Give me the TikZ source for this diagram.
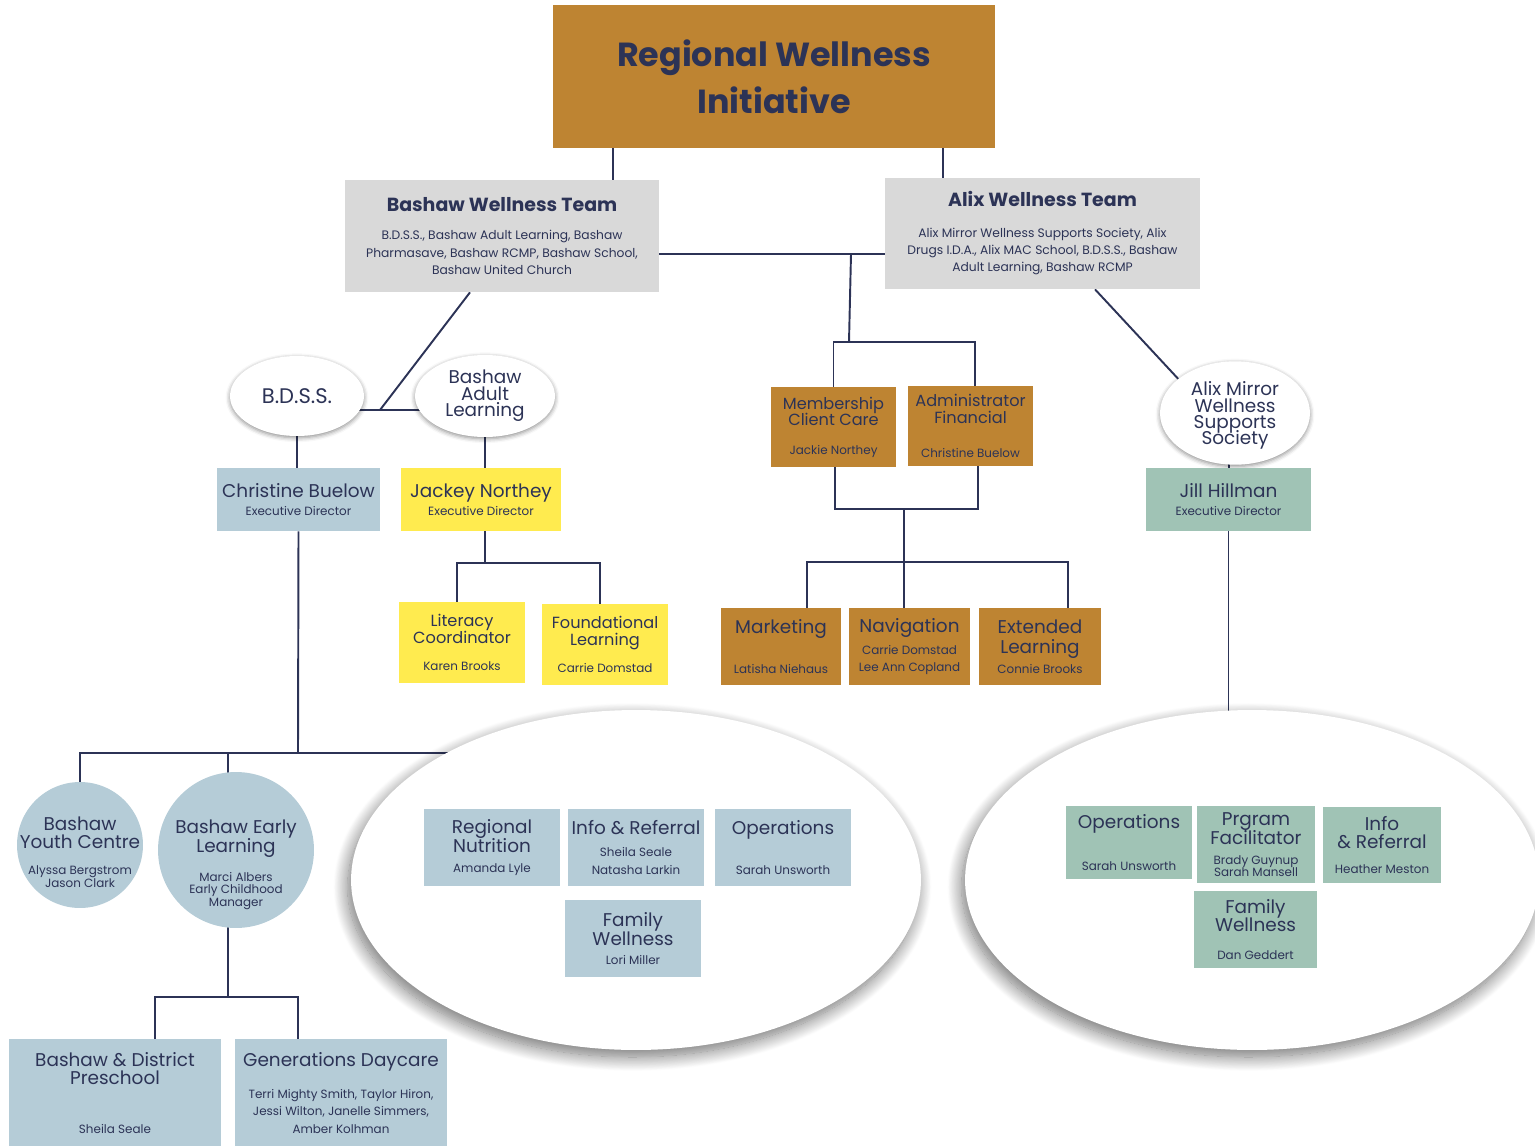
\documentclass[tikz,border=0pt]{standalone}
\usepackage{fontspec}
\setmainfont{Poppins}
\usepackage{tikz}
\usetikzlibrary{shapes.geometric,shadows.blur,backgrounds}

\definecolor{ochre}{HTML}{BE8432}
\definecolor{navy}{HTML}{2C3356}
\definecolor{teamgrey}{HTML}{D9D9D9}
\definecolor{bashblue}{HTML}{B5CCD7}
\definecolor{lityellow}{HTML}{FFEB4F}
\definecolor{alixgreen}{HTML}{A0C3B5}

\newcommand\fttl{\fontsize{19}{27}\selectfont\bfseries}
\newcommand\fteam{\fontsize{10.8}{13}\selectfont\bfseries}
\newcommand\fbody{\fontsize{7}{9.9}\selectfont}
\newcommand\fbase{\fontsize{6.8}{16}\selectfont}
\newcommand\fbig{\fontsize{12}{12}\selectfont}
\newcommand\fhead{\fontsize{10.5}{10.5}\selectfont}
\newcommand\fsub{\fontsize{9.2}{9.6}\selectfont}
\newcommand\fell{\fontsize{10.5}{16}\selectfont}

\tikzset{
  box/.style={rectangle, inner sep=0pt, align=center, text=navy, font=\fbase},
  ovalnode/.style={ellipse, fill=white, inner sep=0pt, align=center, text=navy, font=\fell,
    blur shadow={shadow xshift=0pt, shadow yshift=-1pt, shadow blur radius=2.5pt, shadow opacity=45}},
  bigoval/.style={ellipse, fill=white, inner sep=0pt,
    blur shadow={shadow xshift=-2pt, shadow yshift=-4pt, shadow blur radius=8pt,
      shadow blur steps=20, shadow opacity=55}},
  link/.style={draw=navy, line width=1.1pt}
}

\begin{document}
\begin{tikzpicture}[x=0.02cm, y=-0.02cm]
\useasboundingbox (0,0) rectangle (1535,1146);
\clip (0,0) rectangle (1535,1146);

% top
\node[box, fill=ochre, minimum width=8.84cm, minimum height=2.86cm, font=\fttl] (rwi) at (774,76.5)
  {Regional Wellness\\Initiative};
\node[box, fill=teamgrey, minimum width=6.28cm, minimum height=2.24cm, font=\fbody] (bwt) at (502,236)
  {\fteam Bashaw Wellness Team\\[6.5pt]B.D.S.S., Bashaw Adult Learning, Bashaw\\Pharmasave, Bashaw RCMP, Bashaw School,\\Bashaw United Church};
\node[box, fill=teamgrey, minimum width=6.3cm, minimum height=2.22cm, font=\fbody] (awt) at (1042.5,233.5)
  {\fteam Alix Wellness Team\\[7.3pt]Alix Mirror Wellness Supports Society, Alix\\Drugs I.D.A., Alix MAC School, B.D.S.S., Bashaw\\Adult Learning, Bashaw RCMP};

% Bashaw side
\node[ovalnode, minimum width=2.68cm, minimum height=1.6cm] (bdss) at (297,396) {\fbig B.D.S.S.};
\node[ovalnode, minimum width=2.8cm, minimum height=1.64cm] (bal) at (485,396)
  {Bashaw\\[-6.6pt]Adult\\[-6.6pt]Learning};
\node[box, fill=bashblue, minimum width=3.26cm, minimum height=1.26cm] (cb) at (298.5,499.5)
  {\fhead Christine Buelow\\[-5.6pt]Executive Director};
\node[box, fill=lityellow, minimum width=3.2cm, minimum height=1.26cm] (jn) at (481,499.5)
  {\fhead Jackey Northey\\[-5.6pt]Executive Director};
\node[box, fill=lityellow, minimum width=2.52cm, minimum height=1.62cm] (lit) at (462,642.5)
  {\fsub Literacy\\[-6.4pt]\fsub Coordinator\\[-1pt]Karen Brooks};
\node[box, fill=lityellow, minimum width=2.52cm, minimum height=1.62cm] (fnd) at (605,644.5)
  {\fsub Foundational\\[-6.4pt]\fsub Learning\\[-0.5pt]Carrie Domstad};

% middle
\node[box, fill=ochre, minimum width=2.5cm, minimum height=1.6cm] (memb) at (833.5,427)
  {\fsub Membership\\[-6.4pt]\fsub Client Care\\[0.1pt]Jackie Northey};
\node[box, fill=ochre, minimum width=2.5cm, minimum height=1.6cm] (admin) at (970.5,426)
  {\fsub Administrator\\[-6.4pt]\fsub Financial\\[3.5pt]Christine Buelow};
\node[box, fill=ochre, minimum width=2.4cm, minimum height=1.54cm] (mkt) at (781,646.5)
  {\fhead Marketing\\[6.9pt]Latisha Niehaus};
\node[box, fill=ochre, minimum width=2.42cm, minimum height=1.54cm] (nav) at (909.5,646.5)
  {\fhead Navigation\\[-3.9pt]Carrie Domstad\\[-6.4pt]Lee Ann Copland};
\node[box, fill=ochre, minimum width=2.44cm, minimum height=1.54cm] (ext) at (1040,646.5)
  {\fhead Extended\\[-4.7pt]\fhead Learning\\[-4.5pt]Connie Brooks};

% Alix side
\node[ovalnode, minimum width=3cm, minimum height=1.72cm] (amwss) at (1235,413)
  {\rule{0pt}{11pt}Alix Mirror\\[-6.7pt]Wellness\\[-6.7pt]Supports\\[-6.7pt]Society};
\node[box, fill=alixgreen, minimum width=3.3cm, minimum height=1.26cm] (jh) at (1228.5,499.5)
  {\fhead Jill Hillman\\[-5.6pt]Executive Director};

% early learning
\node[box, circle, inner sep=-10pt, fill=bashblue, minimum size=2.52cm] (byc) at (80,845)
  {\fhead\rule{0pt}{16pt}Bashaw\\[-5.8pt]\fhead Youth Centre\\[-1.1pt]Alyssa Bergstrom\\[-8.6pt]Jason Clark};
\node[box, circle, inner sep=-10pt, fill=bashblue, minimum size=3.12cm] (bel) at (236,850)
  {\fhead\rule{0pt}{25pt}Bashaw Early\\[-5.2pt]\fhead Learning\\[0.6pt]Marci Albers\\[-9.2pt]Early Childhood\\[-8.6pt]Manager};
\node[box, fill=bashblue, minimum width=4.24cm, minimum height=2.16cm] (bdp) at (115,1093)
  {\fhead Bashaw \& District\\[-5.8pt]\fhead Preschool\\[11.4pt]Sheila Seale};
\node[box, fill=bashblue, minimum width=4.24cm, minimum height=2.16cm] (gd) at (341,1093)
  {\fhead Generations Daycare\\[1.8pt]Terri Mighty Smith, Taylor Hiron,\\[-6.4pt]Jessi Wilton, Janelle Simmers,\\[-5.8pt]Amber Kolhman};

% program groups
\node[bigoval, minimum width=11.4cm, minimum height=6.8cm] (lgrp) at (636,880) {};
\node[bigoval, minimum width=11.48cm, minimum height=6.8cm] (rgrp) at (1252,880) {};

\node[box, fill=bashblue, minimum width=2.72cm, minimum height=1.54cm] (rn) at (492,847.5)
  {\fhead Regional\\[-5.2pt]\fhead Nutrition\\[-4.5pt]Amanda Lyle};
\node[box, fill=bashblue, minimum width=2.72cm, minimum height=1.54cm] (ir) at (636,847.5)
  {\fhead Info \& Referral\\[-3.9pt]Sheila Seale\\[-5.8pt]Natasha Larkin};
\node[box, fill=bashblue, minimum width=2.72cm, minimum height=1.54cm] (ops) at (783,847.5)
  {\fhead Operations\\[6.3pt]Sarah Unsworth};
\node[box, fill=bashblue, minimum width=2.72cm, minimum height=1.54cm] (fw) at (633,938.5)
  {\fhead Family\\[-5.2pt]\fhead Wellness\\[-5pt]Lori Miller};

\node[box, fill=alixgreen, minimum width=2.52cm, minimum height=1.46cm] (rops) at (1129,842.5)
  {\fhead Operations\\[8pt]Sarah Unsworth};
\node[box, fill=alixgreen, minimum width=2.36cm, minimum height=1.54cm] (pf) at (1256,844.5)
  {\fhead Prgram\\[-5.2pt]\fhead Facilitator\\[-5pt]Brady Guynup\\[-9.2pt]Sarah Mansell};
\node[box, fill=alixgreen, minimum width=2.36cm, minimum height=1.52cm] (rir) at (1382,845)
  {\fhead Info\\[-5.8pt]\fhead \& Referral\\[-1.6pt]Heather Meston};
\node[box, fill=alixgreen, minimum width=2.46cm, minimum height=1.54cm] (rfw) at (1255.5,929.5)
  {\fhead Family\\[-5.8pt]\fhead Wellness\\[-0.5pt]Dan Geddert};

% junctions
\coordinate (j1) at (851,254);
\coordinate (j2) at (849,342);
\coordinate (j3) at (904,509);
\coordinate (j4) at (904,562);
\coordinate (j5) at (380,410);
\coordinate (j6) at (485,563);
\coordinate (j7) at (298,753);
\coordinate (j8) at (228,997);

\begin{scope}[on background layer]
\draw[link] (613,0 |- rwi.south) -- (613,0 |- bwt.north);
\draw[link] (943,0 |- rwi.south) -- (943,0 |- awt.north);
\draw[link] (bwt.east |- j1) -- (awt.west |- j1);
\draw[link] (j1) -- (j2);
\draw[link] (memb.north) |- (j2) -| (975,0 |- admin.north);
\draw[link] (835,0 |- memb.south) |- (j3) -| (978,0 |- admin.south);
\draw[link] (j3) -- (j3 |- nav.north);
\draw[link] (807,0 |- mkt.north) |- (j4) -| (1068,0 |- ext.north);

\draw[link] (470,0 |- bwt.south) -- (j5);
\draw[link] (bdss.center |- j5) -- (bal.center |- j5);
\draw[link] (bdss) -- (bdss |- cb.north);
\draw[link] (bal) -- (bal |- jn.north);
\draw[link] (j6 |- jn.south) -- (j6);
\draw[link] (457,0 |- lit.north) |- (j6) -| (600,0 |- fnd.north);
\draw[link] (cb.south) -- (j7);
\draw[link] (byc) |- (j7) -- (j7 -| lgrp.center);
\draw[link] (228,0 |- j7) -- (j8);
\draw[link] (155,0 |- bdp.north) |- (j8) -| (298,0 |- gd.north);

\draw[link] (1095,0 |- awt.south) -- (amwss.149);
\draw[link] (1229,0 |- amwss.center) -- (1229,0 |- jh.north);
\draw[link] (jh.south) -- (jh.south |- rgrp.center);
\end{scope}
\end{tikzpicture}
\end{document}
